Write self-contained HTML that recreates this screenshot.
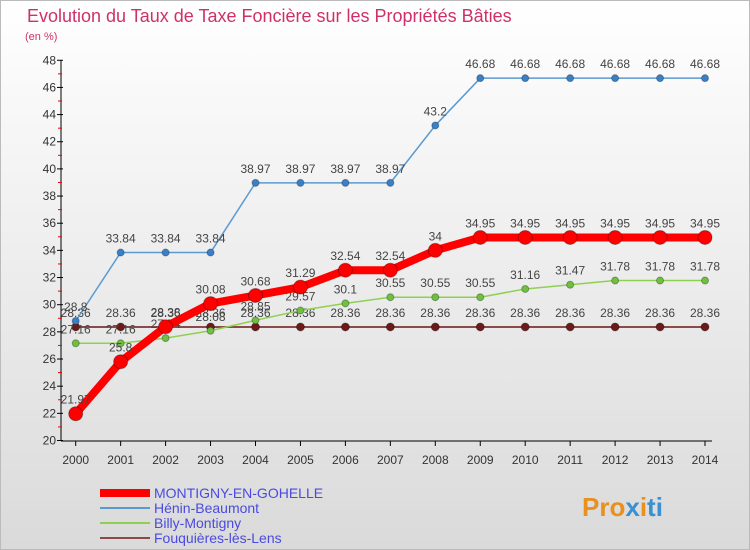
<!DOCTYPE html>
<html><head><meta charset="utf-8"><style>
body{margin:0;width:750px;height:550px;overflow:hidden;font-family:"Liberation Sans",sans-serif}
#c{position:absolute;left:0;top:0;width:748px;height:548px;border:1px solid #bbb;background:linear-gradient(#ffffff,#dadada)}
</style></head><body>
<div id="c">
<svg id="s" width="750" height="550" style="position:absolute;left:-1px;top:-1px"></svg>
</div>
<script>
const years=[2000,2001,2002,2003,2004,2005,2006,2007,2008,2009,2010,2011,2012,2013,2014];
const montigny=[21.97,25.8,28.38,30.08,30.68,31.29,32.54,32.54,34,34.95,34.95,34.95,34.95,34.95,34.95];
const henin=[28.8,33.84,33.84,33.84,38.97,38.97,38.97,38.97,43.2,46.68,46.68,46.68,46.68,46.68,46.68];
const billy=[27.16,27.16,27.54,28.08,28.85,29.57,30.1,30.55,30.55,30.55,31.16,31.47,31.78,31.78,31.78];
const fouq=[28.36,28.36,28.36,28.36,28.36,28.36,28.36,28.36,28.36,28.36,28.36,28.36,28.36,28.36,28.36];
const yTicks=[20,22,24,26,28,30,32,34,36,38,40,42,44,46,48];
const NS='http://www.w3.org/2000/svg',svg=document.getElementById('s');
const X=i=>75.7+i*44.95, Y=v=>440.5-(v-20)*13.58;
function el(t,a,txt){const e=document.createElementNS(NS,t);for(const k in a)e.setAttribute(k,a[k]);if(txt!==undefined)e.textContent=txt;svg.appendChild(e);return e;}
let e;
e=el('text',{x:27,y:22,fill:'#d0306a','font-size':18},'Evolution du Taux de Taxe Foncière sur les Propriétés Bâties');

e=el('text',{x:25,y:40,fill:'#d0306a','font-size':11},'(en %)');

e=el('line',{x1:61,y1:60,x2:61,y2:441,stroke:'#000'});

e=el('line',{x1:61,y1:441,x2:712,y2:441,stroke:'#000'});

yTicks.forEach(v=>{
 e=el('line',{x1:57,y1:Y(v),x2:63,y2:Y(v),stroke:'#000'});
 
 if(v<48){e=el('line',{x1:58,y1:Y(v+1),x2:62,y2:Y(v+1),stroke:'#e00'});
 }
 e=el('text',{x:56,y:Y(v)+4,'text-anchor':'end','font-size':12,fill:'#333'},v);
 
});
years.forEach((y,i)=>{
 e=el('line',{x1:X(i),y1:441,x2:X(i),y2:446,stroke:'#000'});
 
 e=el('text',{x:X(i),y:464,'text-anchor':'middle','font-size':12,fill:'#333'},y);
 
});
function series(d,col,w,r,name,dot){
 e=el('polyline',{points:d.map((v,i)=>X(i)+','+Y(v)).join(' '),fill:'none',stroke:col,'stroke-width':w,'stroke-linejoin':'round'});
 
 d.forEach((v,i)=>{
  e=el('circle',{cx:X(i),cy:Y(v),r:r,fill:dot,stroke:'rgba(0,0,0,0.3)'});
  
  e=el('text',{x:X(i),y:Y(v)-10,'text-anchor':'middle','font-size':12,fill:'#444'},v);
  
 });
}
series(fouq,'#8b4a4a',2,4,'fouquieres','#6b1a1a');
series(billy,'#90d050',1.5,3.5,'billy','#70c040');
series(henin,'#5a9ad0',1.5,3.5,'henin','#3a80c8');
series(montigny,'#f00',8,7,'montigny','#f00');
const leg=[['MONTIGNY-EN-GOHELLE','#f00',8],['Hénin-Beaumont','#5a9ad0',2],['Billy-Montigny','#90d050',2],['Fouquières-lès-Lens','#8b4a4a',2]];
leg.forEach((l,i)=>{
 const y=493+i*15;
 e=el('line',{x1:100,y1:y,x2:150,y2:y,stroke:l[1],'stroke-width':l[2]});
 
 e=el('text',{x:154,y:y+5,'font-size':14,fill:'#4a4ae0'},l[0]);
 
});
e=el('text',{x:582,y:516,'font-size':26,'font-weight':'bold'});

e.innerHTML='<tspan fill="#e89020">Pro</tspan><tspan fill="#3a90d0">x</tspan><tspan fill="#e89020">i</tspan><tspan fill="#3a90d0">ti</tspan>';
</script>
</body></html>
